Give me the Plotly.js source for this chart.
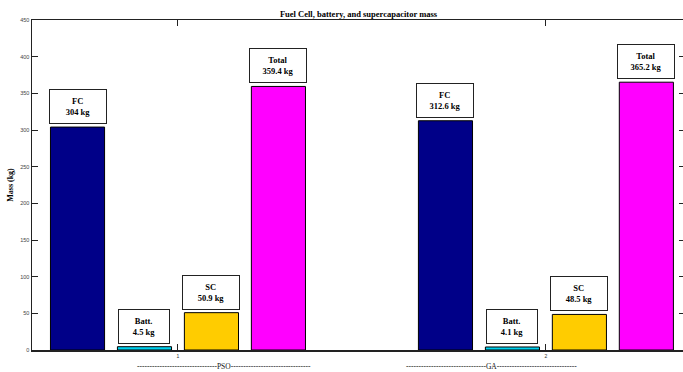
<!DOCTYPE html>
<html>
<head>
<meta charset="utf-8">
<script src="https://cdn.plot.ly/plotly-3.0.1.min.js"></script>
<style>
html,body{margin:0;padding:0;overflow:hidden;background:#fff;}
#chart{width:700px;height:372px;}
</style>
</head>
<body>
<div id="chart"></div>
<script>
// ---- data ----
const groups = [1, 2];
const groupLabels = ["PSO", "GA"];
const seriesNames = ["FC", "Batt.", "SC", "Total"];
const fcMass = [304, 312.6];
const battMass = [4.5, 4.1];
const scMass = [50.9, 48.5];
const totalMass = [359.4, 365.2];
const yTicks = [0, 50, 100, 150, 200, 250, 300, 350, 400, 450];

// ---- styling ----
const seriesValues = [fcMass, battMass, scMass, totalMass];
const colors = ["#000088", "#00d2f0", "#ffcc00", "#ff00ff"];
const bargap = 0.272, bargroupgap = 0.192;
const serif = "Liberation Serif, Times New Roman, serif";

const traces = seriesValues.map((vals, i) => ({
  type: "bar",
  x: groups,
  y: vals,
  name: seriesNames[i],
  marker: {color: colors[i], line: {color: "#000", width: 1}},
  hoverinfo: "none"
}));

const nS = seriesValues.length;
const slot = (1 - bargap) / nS;
const annotations = [];
seriesValues.forEach((vals, i) => {
  const off = -((1 - bargap) / 2) + slot * (i + 0.5);
  vals.forEach((v, g) => {
    annotations.push({
      x: groups[g] + off, y: v, xref: "x", yref: "y",
      text: "<b>" + seriesNames[i] + "<br>" + v + " kg</b>",
      showarrow: false, yanchor: "bottom", yshift: 3,
      font: {family: serif, size: 8.5, color: "#000"},
      bgcolor: "#fff", bordercolor: "#222", borderwidth: 1, borderpad: 1,
      width: i === 1 ? 48 : 54, height: 31
    });
  });
});
const sideDash = "-".repeat(32);
groupLabels.forEach((lab, g) => {
  annotations.push({
    x: groups[g] + (g === 0 ? 0.125 : -0.147), xref: "x",
    y: 0, yref: "paper", yanchor: "middle", yshift: -16,
    text: sideDash + lab + sideDash,
    showarrow: false,
    font: {family: serif, size: 7.5, color: "#111"}
  });
});

const layout = {
  width: 700, height: 372,
  margin: {l: 32, r: 15, t: 20, b: 22},
  paper_bgcolor: "#fff", plot_bgcolor: "#fff",
  showlegend: false,
  barmode: "group", bargap: bargap, bargroupgap: bargroupgap,
  title: {
    text: "<b>Fuel Cell, battery, and supercapacitor mass</b>",
    font: {family: serif, size: 8.5, color: "#000"},
    x: 0.5, xref: "paper", xanchor: "center",
    y: 1 - 14 / 372, yref: "container", yanchor: "middle"
  },
  xaxis: {
    range: [0.6033, 2.378],
    tickvals: groups, ticktext: groups.map(String),
    ticks: "inside", ticklen: 6, tickwidth: 1, tickcolor: "#222",
    showline: true, linecolor: "#222", linewidth: 1.5, mirror: "ticks",
    showgrid: false, zeroline: false,
    tickfont: {family: "Liberation Sans, Arial, sans-serif", size: 5, color: "#333"}
  },
  yaxis: {
    range: [0, 450],
    tickvals: yTicks, ticktext: yTicks.map(String),
    ticks: "inside", ticklen: 6, tickwidth: 1, tickcolor: "#222",
    showline: true, linecolor: "#222", linewidth: 1.5, mirror: "ticks",
    showgrid: false, zeroline: false,
    tickfont: {family: "Liberation Sans, Arial, sans-serif", size: 5.5, color: "#444"},
    title: {text: "<b>Mass (kg)</b>", font: {family: serif, size: 8, color: "#000"}, standoff: 5}
  },
  annotations: annotations
};

Plotly.newPlot("chart", traces, layout, {displayModeBar: false, staticPlot: true});
</script>
</body>
</html>
